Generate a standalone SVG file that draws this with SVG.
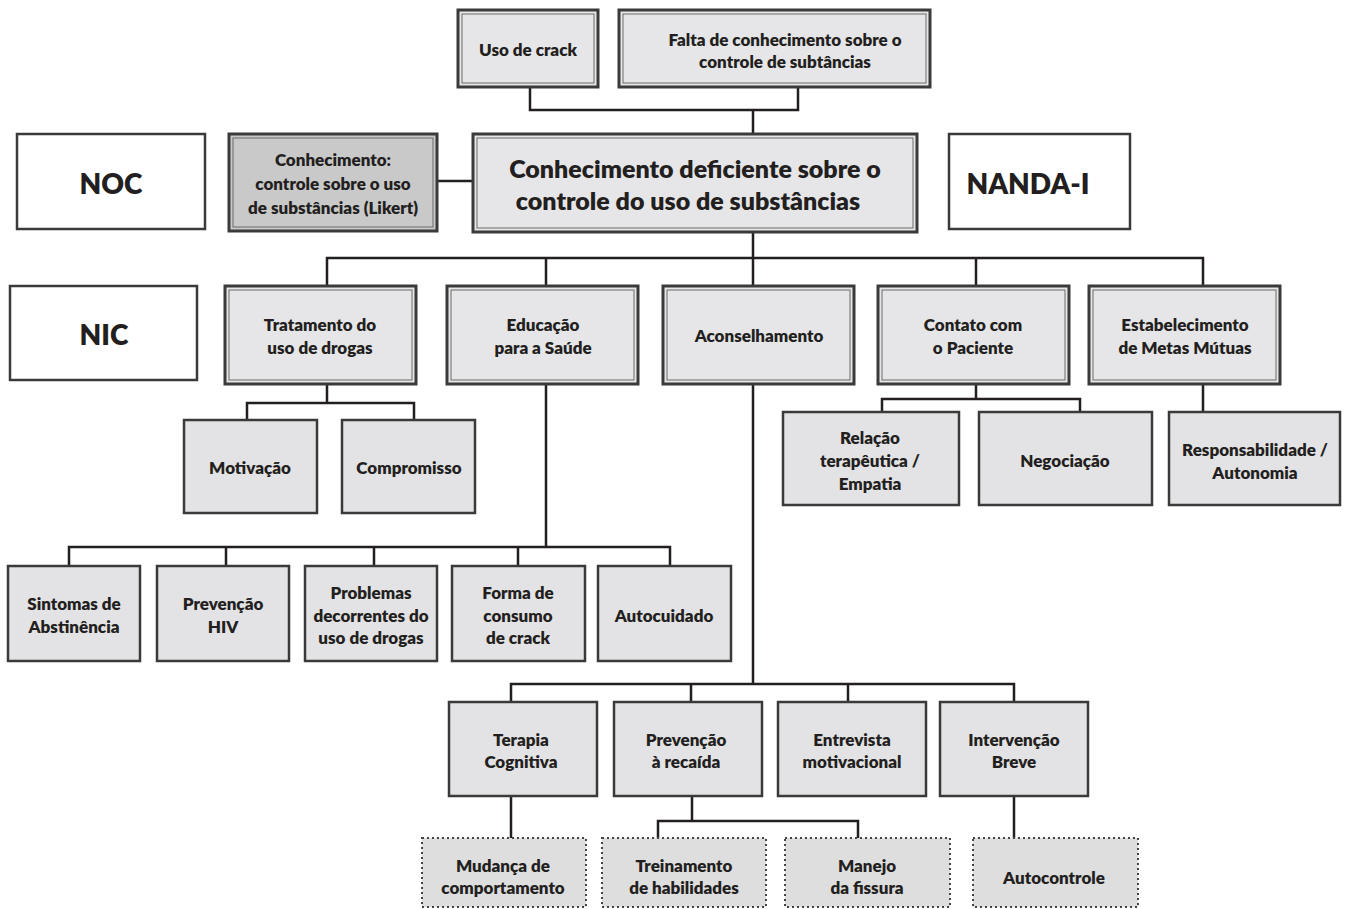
<svg xmlns="http://www.w3.org/2000/svg" width="1345" height="909" viewBox="0 0 1345 909">
<style>
text{font-family:Lato,"Open Sans","Liberation Sans",sans-serif;font-weight:800;fill:#231f20;text-anchor:middle;dominant-baseline:central}
.t{font-size:17px}
.big{font-size:25px}
.lab{font-size:28px}
.o{fill:#e6e6e8;stroke:#3a3a3a;stroke-width:3}
.od{fill:#c9c9ca;stroke:#3a3a3a;stroke-width:3}
.i{fill:none;stroke:#6a6a6a;stroke-width:1}
.s{fill:#e3e3e5;stroke:#3a3a3a;stroke-width:2.5}
.w{fill:#fff;stroke:#3a3a3a;stroke-width:2.5}
.d{fill:#dededf;stroke:#444;stroke-width:2;stroke-dasharray:2 3}
.c{fill:none;stroke:#231f20;stroke-width:2.5}
</style>
<g id="connectors">
<path class="c" d="M530 87V110H798V87M753 110V134"/>
<path class="c" d="M437 181H473"/>
<path class="c" d="M753 232V258M327 286V258H1203V286M546 258V286M753 258V286M976 258V286"/>
<path class="c" d="M327 384V403M247 420V403H414V420"/>
<path class="c" d="M546 384V547M69 566V547H670V566M226 547V566M374 547V566M518 547V566"/>
<path class="c" d="M753 384V684M511 702V684H1014V702M691 684V702M848 684V702"/>
<path class="c" d="M976 384V399M882 412V399H1080V412M1203 384V412"/>
<path class="c" d="M511 796V838M692 796V821M658 838V821H858V838M1014 796V838"/>
</g>
<g id="uso-crack"><rect class="o" x="458" y="10" width="140" height="77"/><rect class="i" x="462" y="14" width="132" height="69"/><text class="t" x="528" y="49">Uso de crack</text></g>
<g id="falta"><rect class="o" x="619" y="10" width="311" height="77"/><rect class="i" x="623" y="14" width="303" height="69"/><text class="t" x="785" y="39">Falta de conhecimento sobre o</text><text class="t" x="785" y="61">controle de subtâncias</text></g>
<g id="main"><rect class="o" x="473" y="134" width="444" height="98"/><rect class="i" x="477" y="138" width="436" height="90"/><text class="big" x="695" y="168">Conhecimento deficiente sobre o</text><text class="big" x="688" y="200">controle do uso de substâncias</text></g>
<g id="conhecimento"><rect class="od" x="229" y="134" width="208" height="97"/><rect class="i" x="233" y="138" width="200" height="89"/><text class="t" x="333" y="159">Conhecimento:</text><text class="t" x="333" y="183">controle sobre o uso</text><text class="t" x="333" y="207">de substâncias (Likert)</text></g>
<g id="noc"><rect class="w" x="17" y="134" width="188" height="95"/><text class="lab" x="111" y="183">NOC</text></g>
<g id="nanda"><rect class="w" x="949" y="134" width="181" height="95"/><text class="lab" x="1028" y="183">NANDA-I</text></g>
<g id="nic"><rect class="w" x="10" y="286" width="187" height="94"/><text class="lab" x="104" y="334">NIC</text></g>
<g id="tratamento"><rect class="o" x="225" y="286" width="191" height="98"/><rect class="i" x="229" y="290" width="183" height="90"/><text class="t" x="320" y="324">Tratamento do</text><text class="t" x="320" y="347">uso de drogas</text></g>
<g id="educacao"><rect class="o" x="447" y="286" width="191" height="98"/><rect class="i" x="451" y="290" width="183" height="90"/><text class="t" x="543" y="324">Educação</text><text class="t" x="543" y="347">para a Saúde</text></g>
<g id="aconselhamento"><rect class="o" x="663" y="286" width="191" height="98"/><rect class="i" x="667" y="290" width="183" height="90"/><text class="t" x="759" y="335">Aconselhamento</text></g>
<g id="contato"><rect class="o" x="878" y="286" width="191" height="98"/><rect class="i" x="882" y="290" width="183" height="90"/><text class="t" x="973" y="324">Contato com</text><text class="t" x="973" y="347">o Paciente</text></g>
<g id="estabelecimento"><rect class="o" x="1089" y="286" width="191" height="98"/><rect class="i" x="1093" y="290" width="183" height="90"/><text class="t" x="1185" y="324">Estabelecimento</text><text class="t" x="1185" y="347">de Metas Mútuas</text></g>
<g id="motivacao"><rect class="s" x="184" y="420" width="133" height="93"/><text class="t" x="250" y="467">Motivação</text></g>
<g id="compromisso"><rect class="s" x="342" y="420" width="133" height="93"/><text class="t" x="409" y="467">Compromisso</text></g>
<g id="relacao"><rect class="s" x="783" y="412" width="176" height="93"/><text class="t" x="870" y="437">Relação</text><text class="t" x="870" y="460">terapêutica /</text><text class="t" x="870" y="483">Empatia</text></g>
<g id="negociacao"><rect class="s" x="979" y="412" width="173" height="93"/><text class="t" x="1065" y="460">Negociação</text></g>
<g id="responsabilidade"><rect class="s" x="1169" y="412" width="171" height="93"/><text class="t" x="1255" y="449">Responsabilidade /</text><text class="t" x="1255" y="472">Autonomia</text></g>
<g id="sintomas"><rect class="s" x="8" y="566" width="132" height="95"/><text class="t" x="74" y="603">Sintomas de</text><text class="t" x="74" y="626">Abstinência</text></g>
<g id="prevencao-hiv"><rect class="s" x="157" y="566" width="132" height="95"/><text class="t" x="223" y="603">Prevenção</text><text class="t" x="223" y="626">HIV</text></g>
<g id="problemas"><rect class="s" x="305" y="566" width="132" height="95"/><text class="t" x="371" y="592">Problemas</text><text class="t" x="371" y="615">decorrentes do</text><text class="t" x="371" y="637">uso de drogas</text></g>
<g id="forma"><rect class="s" x="452" y="566" width="133" height="95"/><text class="t" x="518" y="592">Forma de</text><text class="t" x="518" y="615">consumo</text><text class="t" x="518" y="637">de crack</text></g>
<g id="autocuidado"><rect class="s" x="598" y="566" width="133" height="95"/><text class="t" x="664" y="615">Autocuidado</text></g>
<g id="terapia"><rect class="s" x="449" y="702" width="148" height="94"/><text class="t" x="521" y="739">Terapia</text><text class="t" x="521" y="761">Cognitiva</text></g>
<g id="prevencao-recaida"><rect class="s" x="614" y="702" width="148" height="94"/><text class="t" x="686" y="739">Prevenção</text><text class="t" x="686" y="761">à recaída</text></g>
<g id="entrevista"><rect class="s" x="778" y="702" width="148" height="94"/><text class="t" x="852" y="739">Entrevista</text><text class="t" x="852" y="761">motivacional</text></g>
<g id="intervencao"><rect class="s" x="940" y="702" width="148" height="94"/><text class="t" x="1014" y="739">Intervenção</text><text class="t" x="1014" y="761">Breve</text></g>
<g id="mudanca"><rect class="d" x="422" y="838" width="164" height="69"/><text class="t" x="503" y="865">Mudança de</text><text class="t" x="503" y="887">comportamento</text></g>
<g id="treinamento"><rect class="d" x="602" y="838" width="164" height="69"/><text class="t" x="684" y="865">Treinamento</text><text class="t" x="684" y="887">de habilidades</text></g>
<g id="manejo"><rect class="d" x="785" y="838" width="165" height="69"/><text class="t" x="867" y="865">Manejo</text><text class="t" x="867" y="887">da fissura</text></g>
<g id="autocontrole"><rect class="d" x="973" y="838" width="165" height="69"/><text class="t" x="1054" y="877">Autocontrole</text></g>
</svg>
